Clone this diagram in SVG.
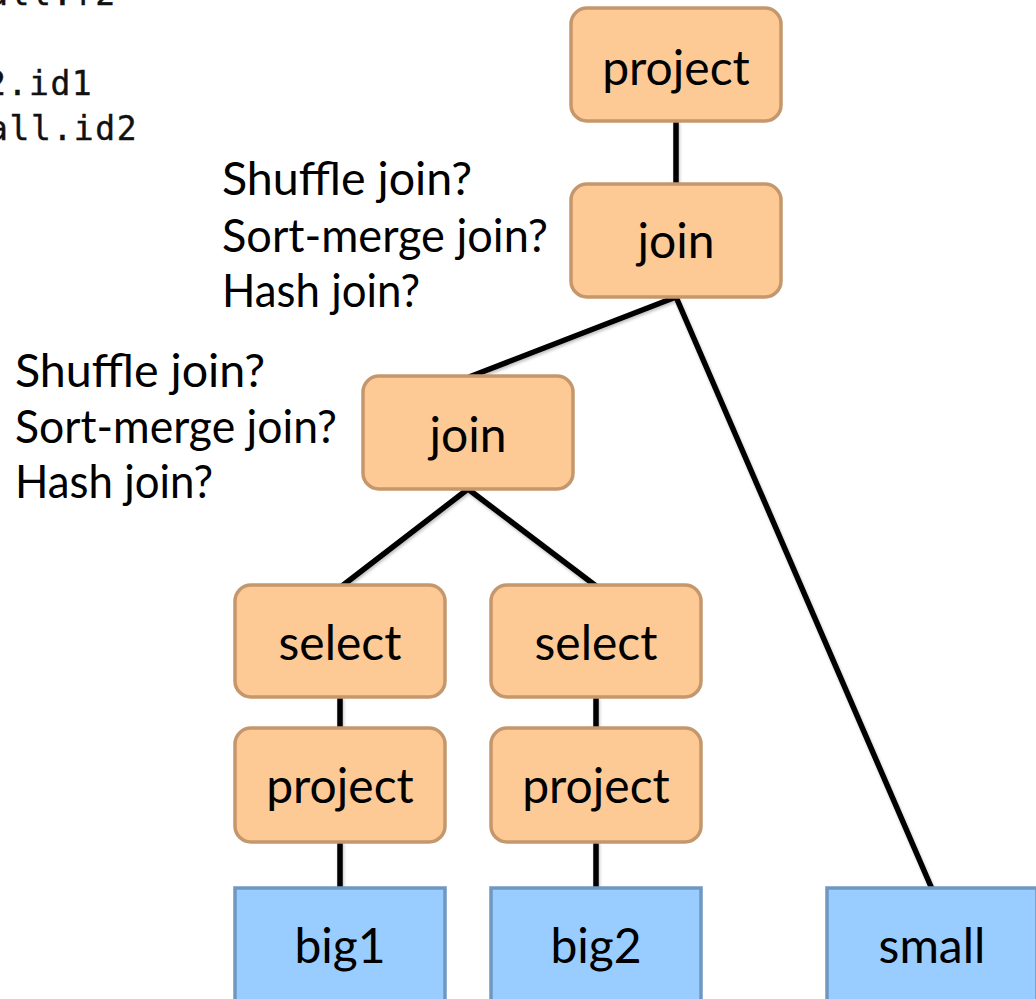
<svg xmlns="http://www.w3.org/2000/svg" width="1036" height="999" viewBox="0 0 1036 999">
<defs>
<filter id="sh" x="-20%" y="-20%" width="140%" height="140%">
<feDropShadow dx="1" dy="2" stdDeviation="1.5" flood-color="#000" flood-opacity="0.25"/>
</filter>
</defs>
<style>
.op{fill:#fdca96;stroke:#c4976c;stroke-width:3.5}
.tb{fill:#99ccff;stroke:#6f97c1;stroke-width:3.5}
.t{font-family:Lato,"Noto Sans",sans-serif;font-size:48px;fill:#000;text-anchor:middle}
.lb{font-family:Lato,"Noto Sans",sans-serif;font-size:47px;fill:#000}
.code{font-family:"DejaVu Sans Mono",monospace;font-size:33px;letter-spacing:1.6px;fill:#111;stroke:#111;stroke-width:0.4}
.c{stroke:#000;stroke-width:5.5;fill:none;stroke-linecap:butt}
</style>
<rect width="1036" height="999" fill="#fff"/>
<g id="code">
<text class="code" x="-12" y="5">all.f2</text>
<text class="code" x="-14" y="95">2.id1</text>
<text class="code" x="-12" y="140">all.id2</text>
</g>
<g id="labels">
<text class="lb" x="222" y="195" textLength="250" lengthAdjust="spacingAndGlyphs">Shuffle join?</text>
<text class="lb" x="222" y="252" textLength="326" lengthAdjust="spacingAndGlyphs">Sort-merge join?</text>
<text class="lb" x="222" y="307" textLength="198" lengthAdjust="spacingAndGlyphs">Hash join?</text>
<text class="lb" x="15" y="387" textLength="250" lengthAdjust="spacingAndGlyphs">Shuffle join?</text>
<text class="lb" x="15" y="443" textLength="322" lengthAdjust="spacingAndGlyphs">Sort-merge join?</text>
<text class="lb" x="15" y="498" textLength="198" lengthAdjust="spacingAndGlyphs">Hash join?</text>
</g>
<g id="connectors" filter="url(#sh)">
<line class="c" x1="676" y1="121" x2="676" y2="185"/>
<polyline class="c" points="469,377 676,297 932,889"/>
<polyline class="c" points="342,586 468,489 596,586"/>
<line class="c" x1="340" y1="697" x2="340" y2="729"/>
<line class="c" x1="596" y1="697" x2="596" y2="729"/>
<line class="c" x1="340" y1="841" x2="340" y2="889"/>
<line class="c" x1="596" y1="841" x2="596" y2="889"/>
</g>
<g id="project-top">
<rect class="op" x="571" y="8" width="210" height="113" rx="16"/>
<text class="t" x="676" y="85">project</text>
</g>
<g id="join-top">
<rect class="op" x="571" y="184" width="210" height="113" rx="16"/>
<text class="t" x="676" y="258">join</text>
</g>
<g id="join-mid">
<rect class="op" x="363" y="376" width="210" height="113" rx="16"/>
<text class="t" x="468" y="452">join</text>
</g>
<g id="select1">
<rect class="op" x="235" y="585" width="210" height="112" rx="16"/>
<text class="t" x="340" y="660">select</text>
</g>
<g id="select2">
<rect class="op" x="491" y="585" width="210" height="112" rx="16"/>
<text class="t" x="596" y="660">select</text>
</g>
<g id="project1">
<rect class="op" x="235" y="728" width="210" height="114" rx="16"/>
<text class="t" x="340" y="803">project</text>
</g>
<g id="project2">
<rect class="op" x="491" y="728" width="210" height="114" rx="16"/>
<text class="t" x="596" y="803">project</text>
</g>
<g id="big1">
<rect class="tb" x="235" y="888" width="210" height="130"/>
<text class="t" x="340" y="963">big1</text>
</g>
<g id="big2">
<rect class="tb" x="491" y="888" width="210" height="130"/>
<text class="t" x="596" y="963">big2</text>
</g>
<g id="small">
<rect class="tb" x="827" y="888" width="210" height="130"/>
<text class="t" x="932" y="963">small</text>
</g>
</svg>
